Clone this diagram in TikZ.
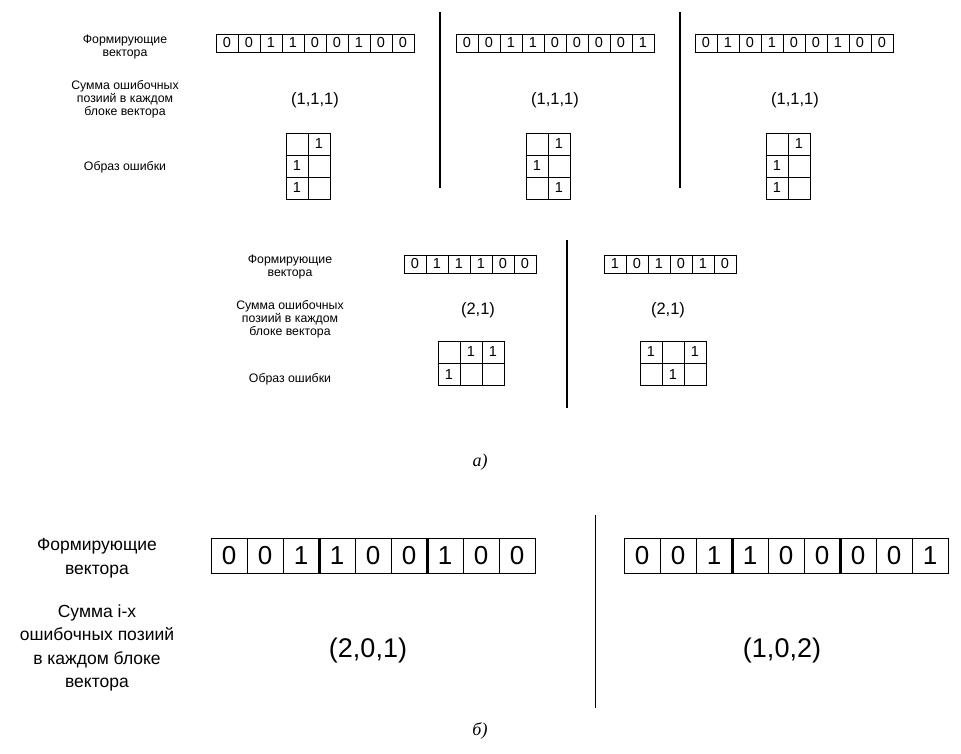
\documentclass[tikz,border=0pt]{standalone}
\usepackage{fontspec}
\setmainfont{Liberation Sans}
\newfontfamily\serifit{Liberation Serif}
\begin{document}
\begin{tikzpicture}[x=1pt, y=-1pt,
    cell/.style={draw, line width=1pt, inner sep=0pt, outer sep=0pt, anchor=north west, minimum width=22pt, minimum height=22pt, font=\fontsize{14.5}{14.5}\selectfont},
    vec cell/.style={cell, minimum height=18pt},
    big cell/.style={cell, minimum width=36pt, minimum height=35pt, font=\fontsize{26}{26}\selectfont},
    lbl/.style={align=center, font=\fontsize{12.3}{13}\selectfont},
    big lbl/.style={align=center, font=\fontsize{17.5}{23.5}\selectfont},
    sum/.style={font=\fontsize{16.5}{16.5}\selectfont},
    big sum/.style={font=\fontsize{27}{27}\selectfont},
    sep/.style={line width=2pt}]
    \useasboundingbox (0,0) rectangle (961,753);

    % partie a) : trois vecteurs de longueur 9
    \node[lbl] (l1) at (125,47) {Формирующие\\вектора};
    \node[lbl] (l2) at (125,99) {Сумма ошибочных\\позиий в каждом\\блоке вектора};
    \node[lbl] (l3) at (125,167) {Образ ошибки};

    \foreach \d [count=\i] in {0,0,1,1,0,0,1,0,0}
        \node[vec cell] (va\i) at ({216+22*(\i-1)},34) {\d};
    \foreach \d [count=\i] in {0,0,1,1,0,0,0,0,1}
        \node[vec cell] (vb\i) at ({456+22*(\i-1)},34) {\d};
    \foreach \d [count=\i] in {0,1,0,1,0,0,1,0,0}
        \node[vec cell] (vc\i) at ({695+22*(\i-1)},34) {\d};

    \node[sum] (sa) at (315,100) {(1,1,1)};
    \node[sum] (sb) at (555,100) {(1,1,1)};
    \node[sum] (sc) at (795,100) {(1,1,1)};

    % images d'erreur 2x3
    \foreach \x/\g/\vals in {286/a/{0,1,1,0,1,0}, 526/b/{0,1,1,0,0,1}, 766/c/{0,1,1,0,1,0}}
        \foreach \d [count=\i] in \vals {
            \pgfmathtruncatemacro{\col}{mod(\i-1,2)}
            \pgfmathtruncatemacro{\row}{(\i-1)/2}
            \node[cell] (g\g\i) at ({\x+22*\col},{133+22*\row}) {\ifnum\d=1 1\fi};
        }

    \coordinate (s1a) at (440,12); \coordinate (s1b) at (440,188);
    \coordinate (s2a) at (680,12); \coordinate (s2b) at (680,188);
    \draw[sep] (s1a) -- (s1b);
    \draw[sep] (s2a) -- (s2b);

    % deux vecteurs de longueur 6
    \node[lbl] (m1) at (290,267) {Формирующие\\вектора};
    \node[lbl] (m2) at (290,319) {Сумма ошибочных\\позиий в каждом\\блоке вектора};
    \node[lbl] (m3) at (290,379) {Образ ошибки};

    \foreach \d [count=\i] in {0,1,1,1,0,0}
        \node[vec cell] (vd\i) at ({404+22*(\i-1)},255) {\d};
    \foreach \d [count=\i] in {1,0,1,0,1,0}
        \node[vec cell] (ve\i) at ({604+22*(\i-1)},255) {\d};

    \node[sum] (sd) at (478,310) {(2,1)};
    \node[sum] (se) at (668,310) {(2,1)};

    % images d'erreur 3x2
    \foreach \x/\g/\vals in {438/d/{0,1,1,1,0,0}, 640/e/{1,0,1,0,1,0}}
        \foreach \d [count=\i] in \vals {
            \pgfmathtruncatemacro{\col}{mod(\i-1,3)}
            \pgfmathtruncatemacro{\row}{(\i-1)/3}
            \node[cell] (g\g\i) at ({\x+22*\col},{341+22.5*\row}) {\ifnum\d=1 1\fi};
        }

    \coordinate (s3a) at (567,240); \coordinate (s3b) at (567,408);
    \draw[sep] (s3a) -- (s3b);

    \node[font=\serifit\itshape\fontsize{18}{18}\selectfont] (capa) at (480,462) {а)};

    % partie b)
    \node[big lbl] (b1) at (97,558) {Формирующие\\вектора};
    \node[big lbl] (b2) at (97,648) {Сумма i-x\\ошибочных позиий\\в каждом блоке\\вектора};

    \foreach \d [count=\i] in {0,0,1,1,0,0,1,0,0}
        \node[big cell] (vf\i) at ({211+36*(\i-1)},538) {\d};
    \foreach \d [count=\i] in {0,0,1,1,0,0,0,0,1}
        \node[big cell] (vg\i) at ({624+36*(\i-1)},538) {\d};
    % frontieres des blocs
    \foreach \v in {vf,vg}
        \foreach \i in {3,6}
            \draw[line width=3pt] (\v\i.north east) -- (\v\i.south east);

    \node[big sum] (sf) at (368,651) {(2,0,1)};
    \node[big sum] (sg) at (782,651) {(1,0,2)};

    \coordinate (s4a) at (595,515); \coordinate (s4b) at (595,708);
    \draw[line width=0.8pt] (s4a) -- (s4b);

    \node[font=\serifit\itshape\fontsize{18}{18}\selectfont] (capb) at (480,731) {б)};
\end{tikzpicture}
\end{document}
